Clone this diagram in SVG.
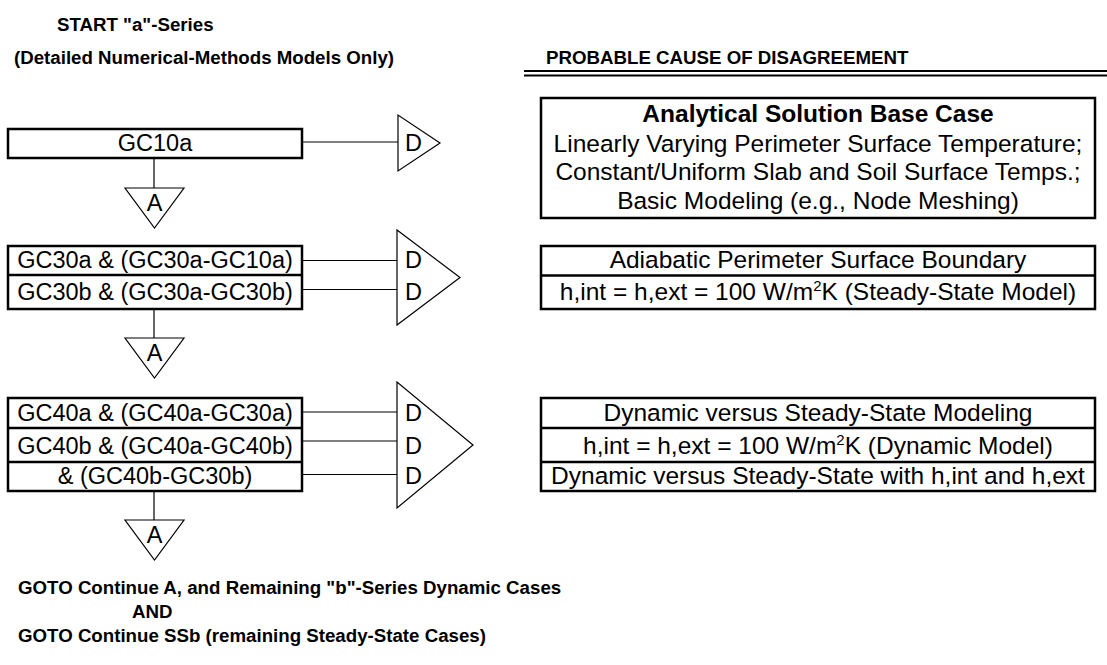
<svg xmlns="http://www.w3.org/2000/svg" width="1107" height="665" viewBox="0 0 1107 665">
<style>
text{font-family:"Liberation Sans",Arial,sans-serif;fill:#000}
.h{font-size:18.7px;font-weight:bold}
.t{font-size:23.5px}
.r{font-size:24.5px}
.c{text-anchor:middle}
.box{fill:#fff;stroke:#000;stroke-width:2.5}
.sep{stroke:#000;stroke-width:2.5}
.ln{stroke:#000;stroke-width:1.2;fill:none}
.tri{fill:#fff;stroke:#000;stroke-width:1.2}
</style>
<rect width="1107" height="665" fill="#fff"/>
<g id="header">
<text class="h" x="57" y="31">START "a"-Series</text>
<text class="h" x="14" y="64">(Detailed Numerical-Methods Models Only)</text>
<text class="h" x="546" y="64">PROBABLE CAUSE OF DISAGREEMENT</text>
<line x1="524" y1="71" x2="1107" y2="71" stroke="#000" stroke-width="2"/>
<line x1="524" y1="75.5" x2="1107" y2="75.5" stroke="#000" stroke-width="2"/>
</g>
<g id="connectors">
<line class="ln" x1="302" y1="142" x2="398" y2="142"/>
<line class="ln" x1="302" y1="260.5" x2="397" y2="260.5"/>
<line class="ln" x1="302" y1="289.5" x2="397" y2="289.5"/>
<line class="ln" x1="302" y1="412" x2="397" y2="412"/>
<line class="ln" x1="302" y1="441" x2="397" y2="441"/>
<line class="ln" x1="302" y1="474.5" x2="397" y2="474.5"/>
<line class="ln" x1="154" y1="158" x2="154" y2="188"/>
<line class="ln" x1="154" y1="309" x2="154" y2="338"/>
<line class="ln" x1="154" y1="491" x2="154" y2="520"/>
</g>
<g id="gc10a">
<rect class="box" x="8" y="129" width="294" height="29"/>
<text class="t c" x="155" y="151">GC10a</text>
</g>
<g id="gc30">
<rect class="box" x="8" y="246" width="294" height="63"/>
<line class="sep" x1="8" y1="275" x2="302" y2="275"/>
<text class="t c" x="155" y="268">GC30a &amp; (GC30a-GC10a)</text>
<text class="t c" x="155" y="300">GC30b &amp; (GC30a-GC30b)</text>
</g>
<g id="gc40">
<rect class="box" x="8" y="398" width="294" height="93"/>
<line class="sep" x1="8" y1="428" x2="302" y2="428"/>
<line class="sep" x1="8" y1="462" x2="302" y2="462"/>
<text class="t c" x="155" y="421">GC40a &amp; (GC40a-GC30a)</text>
<text class="t c" x="155" y="454">GC40b &amp; (GC40a-GC40b)</text>
<text class="t c" x="155" y="484">&amp; (GC40b-GC30b)</text>
</g>
<g id="d1">
<polygon class="tri" points="398,115 398,171 440,143"/>
<text class="t" x="405" y="151">D</text>
</g>
<g id="d2">
<polygon class="tri" points="397,230 397,325 460,277.5"/>
<text class="t" x="405" y="268">D</text>
<text class="t" x="405" y="300">D</text>
</g>
<g id="d3">
<polygon class="tri" points="397,382 397,508 473,445"/>
<text class="t" x="405" y="421">D</text>
<text class="t" x="405" y="454">D</text>
<text class="t" x="405" y="484">D</text>
</g>
<g id="a1">
<polygon class="tri" points="125,188 184,188 154.5,228"/>
<text class="t c" x="154.5" y="211">A</text>
</g>
<g id="a2">
<polygon class="tri" points="125,338 184,338 154.5,378"/>
<text class="t c" x="154.5" y="361">A</text>
</g>
<g id="a3">
<polygon class="tri" points="125,520 184,520 154.5,560"/>
<text class="t c" x="154.5" y="543">A</text>
</g>
<g id="cause1">
<rect class="box" x="541" y="98" width="554" height="120"/>
<text class="r c" x="818" y="122" font-weight="bold" font-size="24">Analytical Solution Base Case</text>
<text class="r c" x="818" y="152">Linearly Varying Perimeter Surface Temperature;</text>
<text class="r c" x="818" y="180">Constant/Uniform Slab and Soil Surface Temps.;</text>
<text class="r c" x="818" y="209">Basic Modeling (e.g., Node Meshing)</text>
</g>
<g id="cause2">
<rect class="box" x="541" y="246" width="554" height="63"/>
<line class="sep" x1="541" y1="275.5" x2="1095" y2="275.5"/>
<text class="r c" x="818" y="268">Adiabatic Perimeter Surface Boundary</text>
<text class="r c" x="818" y="300">h,int = h,ext = 100 W/m<tspan font-size="15" dy="-9">2</tspan><tspan dy="9">K (Steady-State Model)</tspan></text>
</g>
<g id="cause3">
<rect class="box" x="541" y="398" width="554" height="93"/>
<line class="sep" x1="541" y1="428" x2="1095" y2="428"/>
<line class="sep" x1="541" y1="462" x2="1095" y2="462"/>
<text class="r c" x="818" y="421">Dynamic versus Steady-State Modeling</text>
<text class="r c" x="818" y="454">h,int = h,ext = 100 W/m<tspan font-size="15" dy="-9">2</tspan><tspan dy="9">K (Dynamic Model)</tspan></text>
<text class="r c" x="818" y="484">Dynamic versus Steady-State with h,int and h,ext</text>
</g>
<g id="footer">
<text class="h" x="18" y="594">GOTO Continue A, and Remaining "b"-Series Dynamic Cases</text>
<text class="h" x="132" y="618">AND</text>
<text class="h" x="18" y="642">GOTO Continue SSb (remaining Steady-State Cases)</text>
</g>
</svg>
